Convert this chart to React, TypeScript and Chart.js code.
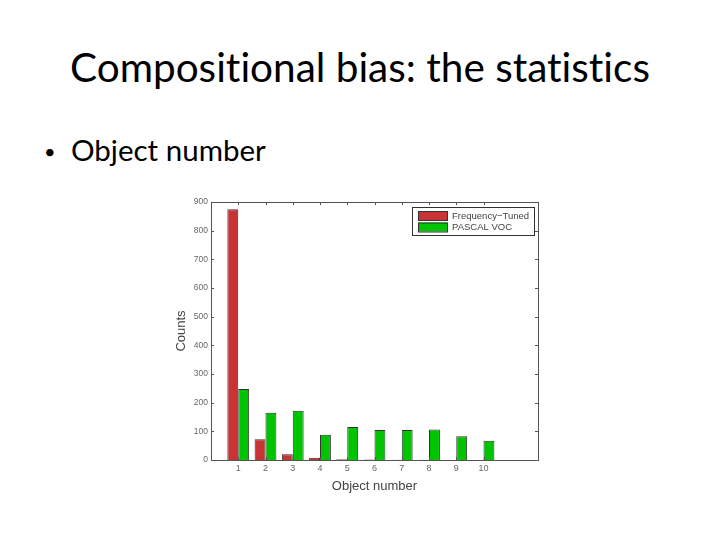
import { useEffect, useRef } from "react";
import { Chart, registerables } from "chart.js";

Chart.register(...registerables);

// x positions 0..12, bars live at 1..10
const xLabels = ["", "1", "2", "3", "4", "5", "6", "7", "8", "9", "10", "", ""];
const freqTuned = [null, 875, 72, 20, 8, 3, 2, 1, 0.5, 0, 0, null, null];
const pascalVoc = [null, 248, 165, 172, 88, 115, 105, 105, 106, 83, 67, null, null];
const yTicks = [0, 100, 200, 300, 400, 500, 600, 700, 800, 900];

const RED = "#c83333";
const GREEN = "#00c400";
const AXIS_FONT = "'Liberation Sans', Arial, sans-serif";

const boxPlugin = {
  id: "matlabBox",
  afterDraw(chart: any) {
    const { ctx, chartArea: a, scales } = chart;
    ctx.save();
    ctx.strokeStyle = "#555";
    ctx.lineWidth = 1;
    ctx.strokeRect(a.left + 0.5, a.top + 0.5, a.right - a.left, a.bottom - a.top);
    ctx.beginPath();
    for (const v of yTicks) {
      const y = Math.round(scales.y.getPixelForValue(v)) + 0.5;
      ctx.moveTo(a.left, y); ctx.lineTo(a.left + 3, y);
      ctx.moveTo(a.right, y); ctx.lineTo(a.right - 3, y);
    }
    xLabels.forEach((l, i) => {
      if (!l) return;
      const x = Math.round(scales.x.getPixelForValue(i)) + 0.5;
      ctx.moveTo(x, a.top); ctx.lineTo(x, a.top + 3);
      ctx.moveTo(x, a.bottom); ctx.lineTo(x, a.bottom - 3);
    });
    ctx.stroke();

    // legend inside top right
    const bx = a.right - 126, by = a.top + 5, bw = 122, bh = 28;
    ctx.fillStyle = "#fff";
    ctx.fillRect(bx, by, bw, bh);
    ctx.strokeStyle = "#333";
    ctx.strokeRect(bx + 0.5, by + 0.5, bw, bh);
    ctx.font = "9.5px " + AXIS_FONT;
    ctx.textBaseline = "middle";
    chart.data.datasets.forEach((ds: any, i: number) => {
      const ry = by + 4 + i * 11.5;
      ctx.fillStyle = ds.backgroundColor;
      ctx.fillRect(bx + 6, ry, 29, 9);
      ctx.strokeStyle = "#333";
      ctx.strokeRect(bx + 6.5, ry + 0.5, 29, 9);
      ctx.fillStyle = "#444";
      ctx.fillText(ds.label, bx + 40, ry + 5);
    });
    ctx.restore();
  },
};

function CountsChart() {
  const canvasRef = useRef<HTMLCanvasElement>(null);
  const chartRef = useRef<any>(null);

  useEffect(() => {
    if (!canvasRef.current) return;
    chartRef.current?.destroy();
    chartRef.current = new Chart(canvasRef.current, {
      type: "bar",
      data: {
        labels: xLabels,
        datasets: [
          { label: "Frequency\u2212Tuned", data: freqTuned as any, backgroundColor: RED, borderColor: "#333", borderWidth: 1, barPercentage: 1, categoryPercentage: 0.8 },
          { label: "PASCAL VOC", data: pascalVoc as any, backgroundColor: GREEN, borderColor: "#333", borderWidth: 1, barPercentage: 1, categoryPercentage: 0.8 },
        ],
      },
      options: {
        responsive: false,
        animation: false,
        layout: { padding: { top: 9, right: 7, left: 0, bottom: 0 } },
        plugins: { legend: { display: false }, tooltip: { enabled: false } },
        scales: {
          x: {
            offset: false,
            grid: { display: false, drawTicks: false },
            border: { display: false },
            ticks: { color: "#666", font: { size: 9, family: AXIS_FONT }, maxRotation: 0, autoSkip: false, padding: 3 },
            title: { display: true, text: "Object number", color: "#444", font: { size: 13, family: AXIS_FONT }, padding: { top: 0, bottom: 1 } },
            afterFit: (s: any) => { s.height = 35; },
          },
          y: {
            min: 0,
            max: 900,
            grid: { display: false, drawTicks: false },
            border: { display: false },
            ticks: { stepSize: 100, color: "#666", font: { size: 8.5, family: AXIS_FONT }, padding: 3 },
            title: { display: true, text: "Counts", color: "#444", font: { size: 13, family: AXIS_FONT }, padding: { bottom: 2 } },
            afterFit: (s: any) => { s.width = 41; },
          },
        },
      },
      plugins: [boxPlugin],
    });
    return () => { chartRef.current?.destroy(); chartRef.current = null; };
  }, []);

  return <canvas ref={canvasRef} width={375} height={302} style={{ position: "absolute", left: 170, top: 193 }} />;
}

export default function App() {
  return (
    <div style={{ position: "fixed", left: 0, top: 0, width: 720, height: 540, background: "#fff", fontFamily: "Lato, 'Open Sans', sans-serif", fontVariantLigatures: "none", color: "#000" }}>
      <div style={{ position: "absolute", top: 42, left: 0, width: 720, textAlign: "center", fontSize: 40.5, lineHeight: "50px" }}>
        Compositional bias: the statistics
      </div>
      <div style={{ position: "absolute", top: 132, left: 44, fontSize: 29.5, lineHeight: "36px" }}>
        <span style={{ display: "inline-block", width: 27, fontSize: 20, verticalAlign: "top", lineHeight: "38px" }}>•</span>Object number
      </div>
      <CountsChart />
    </div>
  );
}
